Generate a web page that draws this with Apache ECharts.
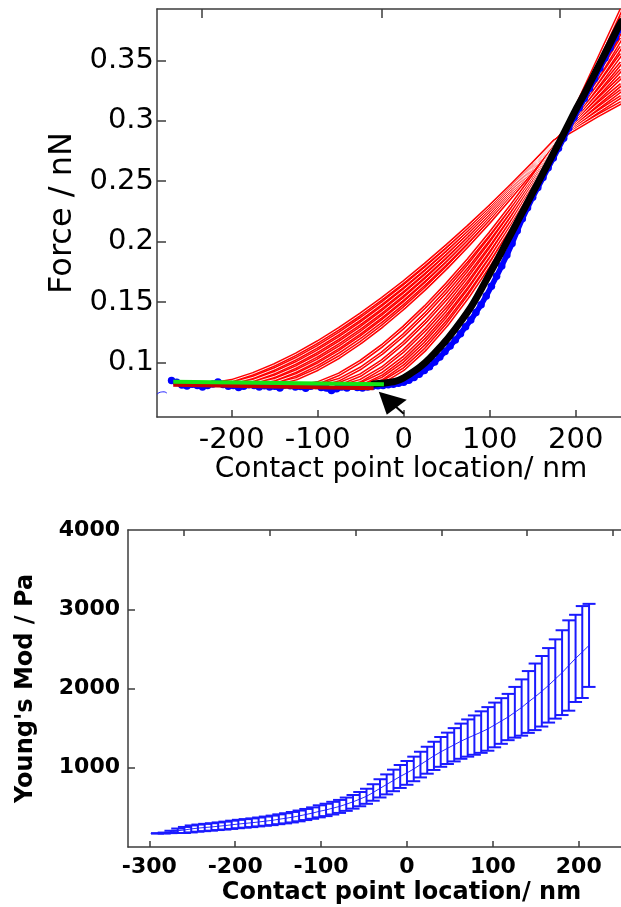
<!DOCTYPE html>
<html>
<head>
<meta charset="utf-8">
<script src="https://cdn.jsdelivr.net/npm/echarts@6/dist/echarts.min.js"></script>
<style>
  html, body { margin: 0; padding: 0; background: #fff; }
  #chart { width: 621px; height: 907px; }
</style>
</head>
<body>
<div id="chart"></div>
<script>
// ---------- upper panel: force curve with contact-point fits ----------
const forceTickX = [-200, -100, 0, 100, 200];
const forceTickY = [0.1, 0.15, 0.2, 0.25, 0.3, 0.35];
const forceFrameTicks = [-235, -26, 182];

// raw approach data (baseline, then indentation)
const rawBaseX = [-270, -264, -258, -252, -246, -240, -234, -228, -222, -216, -210, -204, -198, -192, -186, -180, -174, -168, -162, -156, -150, -144, -138, -132, -126, -120, -114, -108, -102, -96, -90, -84, -78, -72, -66, -60, -54, -48, -42, -36, -30];
const rawBaseY = [0.0852, 0.0838, 0.0815, 0.0808, 0.0822, 0.0812, 0.0800, 0.0812, 0.0824, 0.0840, 0.0820, 0.0806, 0.0812, 0.0795, 0.0805, 0.0818, 0.0812, 0.0800, 0.0810, 0.0798, 0.0806, 0.0790, 0.0815, 0.0810, 0.0800, 0.0804, 0.0788, 0.0806, 0.0812, 0.0795, 0.0790, 0.0770, 0.0784, 0.0800, 0.0790, 0.0805, 0.0795, 0.0790, 0.0800, 0.0805, 0.0810];
const rawRiseX = [-24, -18, -12, -6, 0, 6, 12, 18, 24, 30, 36, 42, 48, 54, 60, 66, 72, 78, 84, 90, 96, 102, 108, 114, 120, 126, 132, 138, 144, 150, 156, 162, 168, 174, 180, 186, 192, 198, 204, 210, 216, 222, 228, 234, 240, 246, 252];
const rawRiseY = [0.0812, 0.0818, 0.0822, 0.0830, 0.0838, 0.0855, 0.0878, 0.0905, 0.0935, 0.0966, 0.1005, 0.1046, 0.1092, 0.1138, 0.1188, 0.1240, 0.1298, 0.1352, 0.1415, 0.1480, 0.1552, 0.1632, 0.1715, 0.1800, 0.1890, 0.1985, 0.2090, 0.2190, 0.2280, 0.2368, 0.2449, 0.2530, 0.2611, 0.2692, 0.2773, 0.2856, 0.2940, 0.3024, 0.3106, 0.3184, 0.3266, 0.3350, 0.3434, 0.3518, 0.3602, 0.3686, 0.3770];
const leadX = [-287, -283, -278.6, -275.4];
const leadY = [0.0739, 0.0756, 0.0759, 0.0748];

// best fit after the detected contact point
const bestFitX = [-35, -25, -10, 0, 10, 20, 30, 40, 50, 60, 70, 80, 90, 100, 110, 120, 130, 140, 150, 160, 170, 180, 190, 200, 210, 220, 230, 240, 250, 253];
const bestFitY = [0.0824, 0.0830, 0.0845, 0.0875, 0.0920, 0.0970, 0.1035, 0.1110, 0.1190, 0.1280, 0.1375, 0.1480, 0.1605, 0.1735, 0.1865, 0.2000, 0.2135, 0.2270, 0.2405, 0.2540, 0.2675, 0.2810, 0.2950, 0.3090, 0.3220, 0.3360, 0.3500, 0.3640, 0.3780, 0.3820];

// baseline fits (green: full baseline, dark red: shorter window)
const baseGreenX = [-268, -23];
const baseGreenY = [0.0843, 0.0821];
const baseRedX = [-268, -35];
const baseRedY = [0.0818, 0.0788];

// trial fits, one per candidate contact point
const fitBase = 0.082;
const fitStart = [-225, -212, -200, -188, -176, -165, -152, -110, -95, -80, -66, -54, -44, -34];
const fitGridX = [-225, -200, -175, -150, -125, -100, -75, -50, -25, 0, 25, 50, 75, 100, 125, 150, 175, 200, 225, 253];
const fit01 = [null, 0.0851, 0.0909, 0.0983, 0.1071, 0.1171, 0.1282, 0.1402, 0.1531, 0.1668, 0.1814, 0.1967, 0.2126, 0.2293, 0.2466, 0.2646, 0.2831, 0.2935, 0.3040, 0.3150];
const fit02 = [null, 0.0831, 0.0879, 0.0949, 0.1034, 0.1133, 0.1243, 0.1364, 0.1494, 0.1634, 0.1782, 0.1939, 0.2102, 0.2274, 0.2452, 0.2637, 0.2828, 0.2950, 0.3070, 0.3200];
const fit03 = [null, null, 0.0854, 0.0918, 0.0999, 0.1096, 0.1206, 0.1327, 0.1459, 0.1601, 0.1752, 0.1911, 0.2079, 0.2255, 0.2438, 0.2628, 0.2825, 0.2965, 0.3100, 0.3250];
const fit04 = [null, null, 0.0834, 0.0888, 0.0965, 0.1059, 0.1168, 0.1289, 0.1422, 0.1566, 0.1720, 0.1883, 0.2054, 0.2235, 0.2423, 0.2618, 0.2822, 0.2980, 0.3135, 0.3300];
const fit05 = [null, null, 0.0820, 0.0860, 0.0931, 0.1021, 0.1128, 0.1250, 0.1384, 0.1529, 0.1686, 0.1852, 0.2028, 0.2213, 0.2407, 0.2608, 0.2818, 0.2995, 0.3170, 0.3360];
const fit06 = [null, null, null, 0.0838, 0.0900, 0.0987, 0.1092, 0.1212, 0.1347, 0.1494, 0.1653, 0.1823, 0.2003, 0.2192, 0.2391, 0.2599, 0.2815, 0.3010, 0.3205, 0.3420];
const fit07 = [null, null, null, 0.0820, 0.0867, 0.0946, 0.1047, 0.1167, 0.1302, 0.1451, 0.1613, 0.1786, 0.1971, 0.2166, 0.2372, 0.2586, 0.2810, 0.3025, 0.3240, 0.3480];
const fit08 = [null, null, null, null, null, 0.0833, 0.0905, 0.1011, 0.1141, 0.1293, 0.1463, 0.1650, 0.1852, 0.2068, 0.2298, 0.2540, 0.2793, 0.3040, 0.3280, 0.3550];
const fit09 = [null, null, null, null, null, null, 0.0860, 0.0954, 0.1080, 0.1230, 0.1403, 0.1594, 0.1802, 0.2027, 0.2266, 0.2520, 0.2786, 0.3055, 0.3315, 0.3610];
const fit10 = [null, null, null, null, null, null, 0.0825, 0.0899, 0.1016, 0.1164, 0.1337, 0.1533, 0.1748, 0.1981, 0.2232, 0.2497, 0.2778, 0.3070, 0.3350, 0.3680];
const fit11 = [null, null, null, null, null, null, null, 0.0853, 0.0957, 0.1099, 0.1273, 0.1471, 0.1693, 0.1935, 0.2196, 0.2475, 0.2770, 0.3080, 0.3390, 0.3740];
const fit12 = [null, null, null, null, null, null, null, 0.0824, 0.0908, 0.1042, 0.1214, 0.1415, 0.1641, 0.1891, 0.2162, 0.2453, 0.2762, 0.3090, 0.3425, 0.3800];
const fit13 = [null, null, null, null, null, null, null, null, 0.0869, 0.0994, 0.1162, 0.1364, 0.1595, 0.1852, 0.2132, 0.2434, 0.2755, 0.3100, 0.3460, 0.3860];
const fit14 = [null, null, null, null, null, null, null, null, 0.0837, 0.0946, 0.1109, 0.1311, 0.1546, 0.1810, 0.2099, 0.2412, 0.2747, 0.3105, 0.3490, 0.3920];
const fitCurves = [fit01, fit02, fit03, fit04, fit05, fit06, fit07, fit08, fit09, fit10, fit11, fit12, fit13, fit14];

// arrow marking the chosen contact point
const arrowAt = [-29, 0.076];

// ---------- lower panel: modulus vs contact point ----------
const modTickX = [-300, -200, -100, 0, 100, 200];
const modTickY = [1000, 2000, 3000, 4000];
const modFrameTicks = [-260, -160, -60, 40, 140, 240];
const modX = [-298.3, -290.5, -282.6, -274.8, -266.9, -259.1, -251.2, -243.4, -235.5, -227.7, -219.8, -212.0, -204.1, -196.3, -188.4, -180.6, -172.7, -164.9, -157.0, -149.2, -141.3, -133.5, -125.6, -117.8, -109.9, -102.1, -94.2, -86.4, -78.5, -70.7, -62.8, -55.0, -47.1, -39.3, -31.4, -23.6, -15.7, -7.9, 0, 7.9, 15.7, 23.6, 31.4, 39.3, 47.1, 55.0, 62.8, 70.7, 78.5, 86.4, 94.2, 102.1, 109.9, 117.8, 125.6, 133.5, 141.3, 149.2, 157.0, 164.9, 172.7, 180.6, 188.4, 196.3, 204.1, 212.0];
const modMean = [170, 172, 176, 190, 205, 215, 228, 238, 246, 253, 262, 270, 280, 290, 298, 306, 316, 326, 336, 350, 362, 376, 392, 410, 428, 450, 468, 490, 512, 540, 570, 604, 640, 688, 740, 790, 840, 890, 935, 985, 1040, 1095, 1150, 1200, 1245, 1290, 1335, 1375, 1412, 1450, 1490, 1540, 1590, 1640, 1700, 1760, 1830, 1895, 1965, 2040, 2120, 2200, 2290, 2380, 2460, 2544];
const modErr = [0, 2, 6, 15, 28, 38, 44, 45, 46, 47, 48, 50, 52, 53, 54, 55, 56, 58, 60, 62, 64, 66, 68, 70, 72, 76, 78, 80, 82, 84, 86, 90, 95, 104, 115, 126, 136, 145, 150, 155, 162, 170, 178, 188, 198, 210, 222, 235, 248, 262, 275, 282, 288, 292, 320, 355, 390, 420, 445, 470, 500, 535, 570, 550, 580, 524];

// ---------- styles ----------
const axisColor = '#3d3d3d';
const frameLine = { show: true, onZero: false, lineStyle: { color: axisColor, width: 1.5 } };
const tickStyle = { color: axisColor, width: 1.5 };
const topFont = { fontFamily: 'DejaVu Sans', color: '#000' };
const lowFont = { fontFamily: 'DejaVu Sans', fontWeight: 'bold', color: '#000' };
const plain = v => String(v);

const series = [];

// trial fits drawn as hollow red strands
fitCurves.forEach((vals, i) => {
  const pts = [[fitStart[i], fitBase]];
  fitGridX.forEach((x, j) => { if (x > fitStart[i] && vals[j] != null) pts.push([x, vals[j]]); });
  const common = { type: 'line', xAxisIndex: 0, yAxisIndex: 0, data: pts, showSymbol: false,
    smooth: false, silent: true, animation: false, z: 2 };
  series.push(Object.assign({}, common, { lineStyle: { color: '#ff0000', width: 3.8, join: 'round' } }));
  series.push(Object.assign({}, common, { lineStyle: { color: '#ffe8e8', width: 1.0, join: 'round' }, z: 3 }));
});

series.push({
  type: 'line', xAxisIndex: 0, yAxisIndex: 0, showSymbol: false, animation: false, z: 4,
  data: leadX.map((x, i) => [x, leadY[i]]), smooth: true,
  lineStyle: { color: '#2020ff', width: 1 }
});
// raw data: dense dots merge into a band
series.push({
  type: 'line', xAxisIndex: 0, yAxisIndex: 0, animation: false, z: 4,
  showSymbol: true, showAllSymbol: true, symbol: 'circle', symbolSize: 7.5,
  itemStyle: { color: '#0000ff', borderWidth: 0 },
  lineStyle: { color: '#0000ff', width: 5.5, join: 'round' },
  data: rawBaseX.map((x, i) => [x, rawBaseY[i]]).concat(rawRiseX.map((x, i) => [x, rawRiseY[i]]))
});
series.push({
  type: 'line', xAxisIndex: 0, yAxisIndex: 0, showSymbol: false, animation: false, z: 5,
  data: bestFitX.map((x, i) => [x, bestFitY[i]]), smooth: 0.3,
  lineStyle: { color: '#000000', width: 7, cap: 'round' }
});
series.push({
  type: 'line', xAxisIndex: 0, yAxisIndex: 0, showSymbol: false, animation: false, z: 6,
  data: baseRedX.map((x, i) => [x, baseRedY[i]]),
  lineStyle: { color: '#c40000', width: 4 }
});
series.push({
  type: 'line', xAxisIndex: 0, yAxisIndex: 0, showSymbol: false, animation: false, z: 7,
  data: baseGreenX.map((x, i) => [x, baseGreenY[i]]),
  lineStyle: { color: '#14e614', width: 4 }
});

// modulus mean line
series.push({
  type: 'line', xAxisIndex: 1, yAxisIndex: 1, showSymbol: false, animation: false, z: 3,
  data: modX.map((x, i) => [x, modMean[i]]),
  lineStyle: { color: '#2a2aff', width: 1 }
});
// modulus error bars
series.push({
  type: 'custom', xAxisIndex: 1, yAxisIndex: 1, animation: false, z: 4,
  data: modX.map((x, i) => [x, modMean[i], modErr[i]]),
  renderItem: function (params, api) {
    const x = api.value(0), m = api.value(1), e = api.value(2);
    if (!e) return null;
    const hi = api.coord([x, m + e]);
    const lo = api.coord([x, m - e]);
    const w = 6.5;
    const st = { stroke: '#1a1aff', lineWidth: 2 };
    return {
      type: 'group',
      children: [
        { type: 'line', shape: { x1: hi[0], y1: hi[1], x2: lo[0], y2: lo[1] }, style: st },
        { type: 'line', shape: { x1: hi[0] - w, y1: hi[1], x2: hi[0] + w, y2: hi[1] }, style: st },
        { type: 'line', shape: { x1: lo[0] - w, y1: lo[1], x2: lo[0] + w, y2: lo[1] }, style: st }
      ]
    };
  }
});

const option = {
  backgroundColor: '#ffffff',
  animation: false,
  grid: [
    { left: 157, top: 9, width: 464, height: 408 },
    { left: 128, top: 530, width: 493, height: 317 }
  ],
  xAxis: [
    {
      type: 'value', gridIndex: 0, position: 'bottom', min: -286.9, max: 252.7,
      axisLine: frameLine, splitLine: { show: false },
      axisTick: { inside: true, length: 7, customValues: forceTickX, lineStyle: tickStyle },
      axisLabel: Object.assign({ customValues: forceTickX, fontSize: 29, margin: 9, formatter: plain }, topFont),
      name: 'Contact point location/ nm', nameLocation: 'middle', nameGap: 39,
      nameTextStyle: Object.assign({ fontSize: 28, padding: [0, 0, 0, 24] }, topFont)
    },
    {
      type: 'value', gridIndex: 1, position: 'bottom', min: -324.8, max: 249.2,
      axisLine: frameLine, splitLine: { show: false },
      axisTick: { inside: true, length: 6, customValues: modTickX, lineStyle: tickStyle },
      axisLabel: Object.assign({ customValues: modTickX, fontSize: 22, margin: 9, formatter: plain }, lowFont),
      name: 'Contact point location/ nm', nameLocation: 'middle', nameGap: 34,
      nameTextStyle: Object.assign({ fontSize: 24, padding: [0, 0, 0, 54] }, lowFont)
    },
    {
      type: 'value', gridIndex: 0, position: 'top', min: -286.9, max: 252.7,
      axisLine: frameLine, splitLine: { show: false }, axisLabel: { show: false },
      axisTick: { inside: true, length: 9, customValues: forceFrameTicks, lineStyle: tickStyle }
    },
    {
      type: 'value', gridIndex: 1, position: 'top', min: -324.8, max: 249.2,
      axisLine: frameLine, splitLine: { show: false }, axisLabel: { show: false },
      axisTick: { inside: true, length: 6, customValues: modFrameTicks, lineStyle: tickStyle }
    }
  ],
  yAxis: [
    {
      type: 'value', gridIndex: 0, min: 0.0551, max: 0.3924,
      axisLine: frameLine, splitLine: { show: false },
      axisTick: { inside: true, length: 9, customValues: forceTickY, lineStyle: tickStyle },
      axisLabel: Object.assign({ customValues: forceTickY, fontSize: 29, margin: 3, formatter: plain }, topFont),
      name: 'Force / nN', nameLocation: 'middle', nameGap: 72,
      nameTextStyle: Object.assign({ fontSize: 32 }, topFont)
    },
    {
      type: 'value', gridIndex: 1, min: 0, max: 4000,
      axisLine: frameLine, splitLine: { show: false },
      axisTick: { inside: true, length: 7, customValues: [1000, 2000, 3000], lineStyle: tickStyle },
      axisLabel: Object.assign({ customValues: modTickY, fontSize: 22, margin: 8, formatter: plain }, lowFont),
      name: "Young's Mod / Pa", nameLocation: 'middle', nameGap: 90,
      nameTextStyle: Object.assign({ fontSize: 24 }, lowFont)
    }
  ],
  series: series
};

const chart = echarts.init(document.getElementById('chart'));
chart.setOption(option);

// arrowhead pointing at the selected contact point
const tip = chart.convertToPixel({ xAxisIndex: 0, yAxisIndex: 0 }, arrowAt);
chart.setOption({
  graphic: [
    {
      type: 'polygon', z: 20, silent: true,
      shape: { points: [[tip[0], tip[1]], [tip[0] + 28, tip[1] + 8], [tip[0] + 8, tip[1] + 23]] },
      style: { fill: '#000' }
    },
    {
      type: 'line', z: 20, silent: true,
      shape: { x1: tip[0] + 16, y1: tip[1] + 14, x2: tip[0] + 25, y2: tip[1] + 22 },
      style: { stroke: '#000', lineWidth: 2 }
    }
  ]
});
</script>
</body>
</html>
